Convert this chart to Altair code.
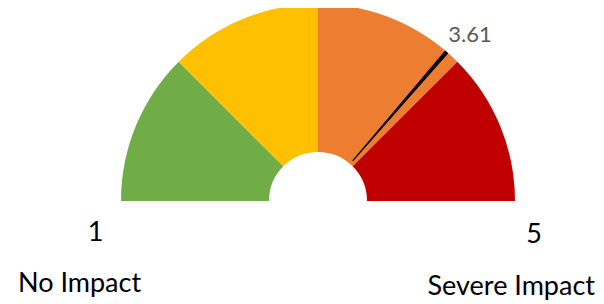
import math
import altair as alt
import pandas as pd

# Gauge bands (value scale 1..5)
band_start = [1, 2, 3, 4]
band_end = [2, 3, 4, 5]
band_name = ["Low", "Moderate", "High", "Severe"]
band_color = ["#70AD47", "#FFC000", "#ED7D31", "#C00000"]

# Needle (position) and its label
needle_start = [3.893]
needle_end = [3.92]
needle_label = ["3.61"]

# End labels
end_ticks = ["1", "5"]
end_names = ["No Impact", "Severe Impact"]

bands = pd.DataFrame({"start": band_start, "end": band_end, "band": band_name})
needle = pd.DataFrame({"start": needle_start, "end": needle_end, "label": needle_label})

theta_scale = alt.Scale(domain=[1, 5], range=[-math.pi / 2, math.pi / 2])
CX, CY = 310, 193
R_OUT, R_IN = 197, 49
FONT = "Lato"

band_layer = alt.Chart(bands).mark_arc(innerRadius=R_IN, outerRadius=R_OUT).encode(
    theta=alt.Theta("start:Q", scale=theta_scale, stack=None),
    theta2="end:Q",
    color=alt.Color("band:N", scale=alt.Scale(domain=band_name, range=band_color), legend=None),
    x=alt.value(CX),
    y=alt.value(CY),
)

needle_layer = alt.Chart(needle).mark_arc(innerRadius=R_IN + 4, outerRadius=R_OUT, color="black").encode(
    theta=alt.Theta("start:Q", scale=theta_scale, stack=None),
    theta2="end:Q",
    x=alt.value(CX),
    y=alt.value(CY),
)

value_text = alt.Chart(needle).mark_text(
    font=FONT, fontSize=22, color="#595959", align="center", baseline="alphabetic"
).encode(text="label:N", x=alt.value(462), y=alt.value(34))

def label(txt, x, y, align, size):
    return alt.Chart(pd.DataFrame({"t": [txt]})).mark_text(
        font=FONT, fontSize=size, color="#000000", align=align, baseline="alphabetic"
    ).encode(text="t:N", x=alt.value(x), y=alt.value(y))

chart = alt.layer(
    band_layer,
    needle_layer,
    value_text,
    label(end_ticks[0], 87.5, 233, "center", 27),
    label(end_ticks[1], 526, 235, "center", 27),
    label(end_names[0], 10, 284, "left", 27),
    label(end_names[1], 587, 287, "right", 27),
).properties(
    width=588, height=295, autosize=alt.AutoSizeParams(type="none"), padding=0
).configure_view(stroke=None)

chart.save("out.html", embed_options={"renderer": "svg", "actions": False})
